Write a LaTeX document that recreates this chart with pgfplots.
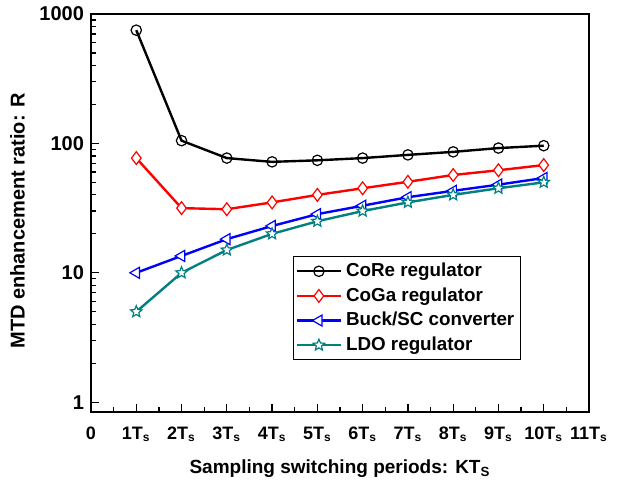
\documentclass[border=0pt]{standalone}
\usepackage{fontspec}
\setmainfont{Liberation Sans}
\usepackage{pgfplots}
\pgfplotsset{compat=1.18}
\definecolor{ldo}{RGB}{0,128,128}
\pgfdeclareplotmark{star5}{%
  \pgfpathmoveto{\pgfqpointpolar{90}{\pgfplotmarksize}}%
  \pgfpathlineto{\pgfqpointpolar{126}{0.45\pgfplotmarksize}}%
  \pgfpathlineto{\pgfqpointpolar{162}{\pgfplotmarksize}}%
  \pgfpathlineto{\pgfqpointpolar{198}{0.45\pgfplotmarksize}}%
  \pgfpathlineto{\pgfqpointpolar{234}{\pgfplotmarksize}}%
  \pgfpathlineto{\pgfqpointpolar{270}{0.45\pgfplotmarksize}}%
  \pgfpathlineto{\pgfqpointpolar{306}{\pgfplotmarksize}}%
  \pgfpathlineto{\pgfqpointpolar{342}{0.45\pgfplotmarksize}}%
  \pgfpathlineto{\pgfqpointpolar{18}{\pgfplotmarksize}}%
  \pgfpathlineto{\pgfqpointpolar{54}{0.45\pgfplotmarksize}}%
  \pgfpathclose\pgfusepathqfillstroke}
\begin{document}
\begin{tikzpicture}
\useasboundingbox (-45.5pt,-34pt) rectangle (264pt,206pt);
\begin{axis}[
  scale only axis, width=249pt, height=199pt,
  at={(0,0)}, anchor=south west,
  ymode=log, ymin=0.84, ymax=1000,
  xmin=0, xmax=11,
  xtick={0,1,...,11},
  xticklabels={0,1T\textsubscript{s},2T\textsubscript{s},3T\textsubscript{s},4T\textsubscript{s},5T\textsubscript{s},6T\textsubscript{s},7T\textsubscript{s},8T\textsubscript{s},9T\textsubscript{s},10T\textsubscript{s},11T\textsubscript{s}},
  minor x tick num=1,
  ytick={1,10,100,1000}, yticklabels={1,10,100,1000},
  tick align=inside, xtick pos=bottom, ytick pos=left,
  major tick length=4pt, minor tick length=2.5pt,
  tick style={black, line width=0.6pt},
  axis line style={line width=0.7pt},
  xticklabel style={font=\fontsize{9}{10}\selectfont\bfseries, yshift=-4pt},
  yticklabel style={font=\fontsize{10}{11}\selectfont\bfseries},
  xlabel={Sampling switching periods: KT\textsubscript{S}},
  ylabel={MTD enhancement ratio: R},
  xlabel style={font=\fontsize{9.5}{11}\selectfont\bfseries, yshift=-2pt},
  ylabel style={font=\fontsize{10}{12}\selectfont\bfseries, yshift=0.5pt, xshift=-4pt},
  legend style={at={(0.405,0.392)}, anchor=north west, font=\fontsize{9.4}{11}\selectfont\bfseries, draw=black, line width=0.6pt, row sep=0pt, inner sep=1.2pt},
  legend cell align=left,
  legend image code/.code={\draw[#1] (0pt,0pt) -- (22pt,0pt); \draw[#1, mark repeat=2, mark phase=2] plot coordinates {(0pt,0pt) (11pt,0pt) (22pt,0pt)};},
  every axis plot/.append style={line width=1.2pt},
]
\addplot[black, mark=o, mark size=2.6pt, mark options={fill=white, line width=0.6pt}] coordinates {
(1,750) (2,105) (3,77) (4,72) (5,74) (6,77) (7,81.5) (8,86) (9,92) (10,96)};
\addlegendentry{CoRe regulator}
\addplot[red, mark=diamond*, mark size=3.2pt, mark options={fill=white, line width=0.6pt}] coordinates {
(1,77) (2,31.6) (3,31) (4,35) (5,40) (6,45) (7,50.5) (8,57) (9,62) (10,68)};
\addlegendentry{CoGa regulator}
\addplot[blue, mark=triangle*, mark size=3.2pt, mark options={fill=white, rotate=90, line width=0.6pt}] coordinates {
(1,10) (2,13.5) (3,18.2) (4,23) (5,28.4) (6,33) (7,38.4) (8,43) (9,48) (10,54)};
\addlegendentry{Buck/SC converter}
\addplot[ldo, mark=star5, mark size=3pt, mark options={fill=white, line width=0.6pt}] coordinates {
(1,5) (2,10) (3,15) (4,20) (5,25) (6,30) (7,35) (8,40) (9,45) (10,50)};
\addlegendentry{LDO regulator}
\end{axis}
\end{tikzpicture}
\end{document}
